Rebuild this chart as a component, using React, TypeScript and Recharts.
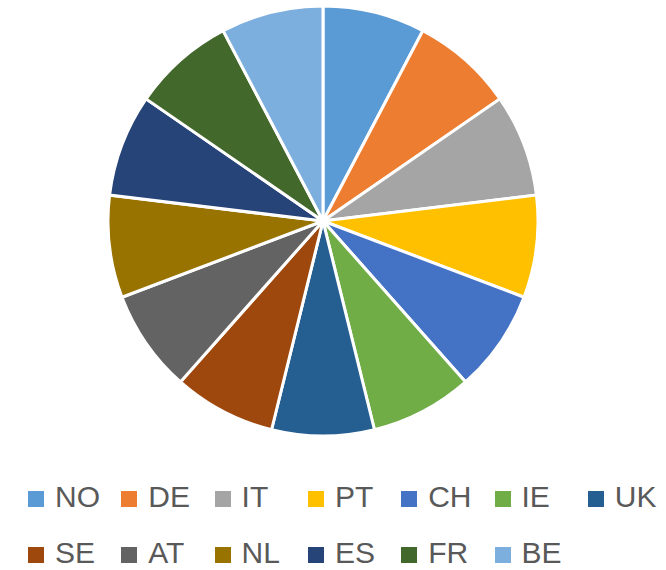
import { PieChart, Pie, Cell, Legend } from "recharts";

const countries = ["NO", "DE", "IT", "PT", "CH", "IE", "UK", "SE", "AT", "NL", "ES", "FR", "BE"];
const shares = [1, 1, 1, 1, 1, 1, 1, 1, 1, 1, 1, 1, 1];
const colors = [
  "#5B9BD5", "#ED7D31", "#A5A5A5", "#FFC000", "#4472C4", "#70AD47", "#255E91",
  "#9E480E", "#636363", "#997300", "#264478", "#43682B", "#7CAFDD",
];

const data = countries.map((name, i) => ({ name, value: shares[i], color: colors[i] }));

const PER_ROW = 7;

function LegendGrid({ payload }: { payload?: any[] }) {
  // keep the data order, not the alphabetical one
  const items = [...(payload ?? [])].sort(
    (a, b) => countries.indexOf(a.value) - countries.indexOf(b.value)
  );
  return (
    <div style={{ position: "relative", width: 666, height: 100 }}>
      {items.map((p, i) => {
        const col = i % PER_ROW;
        const row = Math.floor(i / PER_ROW);
        return (
          <div
            key={i}
            style={{
              position: "absolute",
              left: 28 + col * 93.3,
              top: 15 + row * 56,
              height: 26,
              display: "flex",
              alignItems: "center",
              whiteSpace: "nowrap",
            }}
          >
            <span
              style={{
                display: "inline-block",
                width: 16,
                height: 16,
                marginTop: 4,
                background: p.payload?.color ?? p.color,
                marginRight: 11,
              }}
            />
            <span
              style={{
                fontSize: 30,
                lineHeight: "26px",
                color: "#595959",
                fontFamily: "'Liberation Sans', Arial, sans-serif",
              }}
            >
              {p.value}
            </span>
          </div>
        );
      })}
    </div>
  );
}

export default function App() {
  return (
    <div style={{ position: "absolute", left: 0, top: 0, background: "#fff" }}>
      <PieChart width={666} height={570} margin={{ top: 0, right: 0, bottom: 0, left: 0 }}>
        <Pie
          data={data}
          dataKey="value"
          nameKey="name"
          cx={323}
          cy={221}
          outerRadius={215}
          startAngle={90}
          endAngle={-270}
          stroke="#fff"
          strokeWidth={3}
          isAnimationActive={false}
        >
          {data.map((d, i) => (
            <Cell key={i} fill={d.color} />
          ))}
        </Pie>
        <Legend
          content={(props: any) => <LegendGrid payload={props.payload} />}
          wrapperStyle={{ position: "absolute", left: 0, top: 469, width: 666 }}
        />
      </PieChart>
    </div>
  );
}
